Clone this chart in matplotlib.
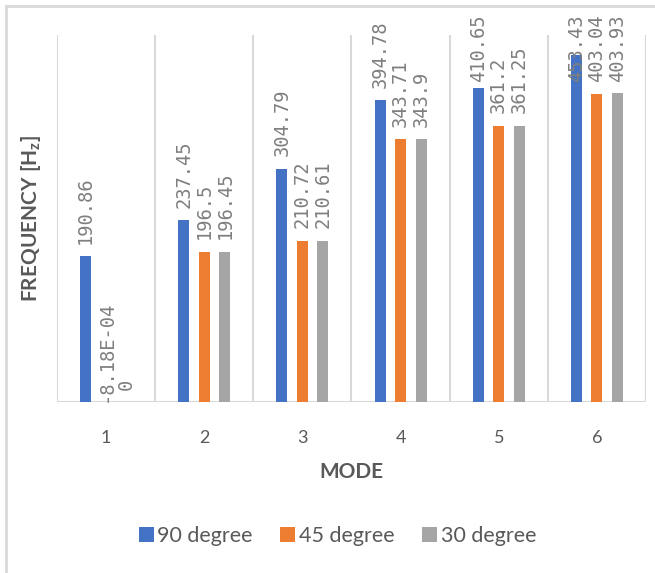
import numpy as np
import matplotlib.pyplot as plt
from matplotlib.patches import Rectangle

# Dados do gráfico
modos = ['1', '2', '3', '4', '5', '6']
series = ['90 degree', '45 degree', '30 degree']
freq_90 = [190.86, 237.45, 304.79, 394.78, 410.65, 453.43]
freq_45 = [-8.18e-04, 196.5, 210.72, 343.71, 361.2, 403.04]
freq_30 = [0, 196.45, 210.61, 343.9, 361.25, 403.93]
rotulos_45 = ['-8.18E-04', '196.5', '210.72', '343.71', '361.2', '403.04']

cores = ['#4472c4', '#ed7d31', '#a5a5a5']
cinza_grade = '#d9d9d9'
cinza_texto = '#595959'

fig = plt.figure(figsize=(6.55, 5.73), dpi=100)
ax = fig.add_axes([57/655, 1 - 402/573, 589/655, 367/573])

x = np.arange(len(modos))
largura = 0.112
deslocamento = 0.209

todas = [freq_90, freq_45, freq_30]
rotulos = [[f'{v:g}' for v in freq_90], rotulos_45, [f'{v:g}' for v in freq_30]]

ax.set_xlim(-0.5, len(modos) - 0.5)
ax.set_ylim(0, 480)

# Linhas de grade verticais entre categorias
for b in np.arange(-0.5, len(modos), 1.0):
    ax.axvline(b, color=cinza_grade, linewidth=1.5, zorder=0)
ax.axhline(0, color=cinza_grade, linewidth=1.5, zorder=1)

textos = []
for i, (valores, cor, nome) in enumerate(zip(todas, cores, series)):
    pos = x + (i - 1) * deslocamento
    ax.bar(pos, valores, width=largura, color=cor, label=nome, zorder=2)
    for xp, v, rot in zip(pos, valores, rotulos[i]):
        off = 9 if v >= 0 else 0
        t = ax.annotate(rot, (xp, max(v, 0)), xytext=(0, off), textcoords='offset points',
                        rotation=90, ha='center', va='bottom', fontsize=13.5,
                        family='DejaVu Sans Mono', color='#7f7f7f', annotation_clip=False)
        textos.append(t)

for s in ax.spines.values():
    s.set_visible(False)
ax.set_yticks([])
ax.set_xticks(x)
ax.set_xticklabels(modos, fontsize=13, color=cinza_texto, family='Lato')
ax.tick_params(axis='x', length=0, pad=20)
ax.set_xlabel('MODE', fontsize=15, fontweight='bold', color=cinza_texto, family='Lato', labelpad=12)
ax.set_ylabel('FREQUENCY [H$_\\mathregular{z}$]', fontsize=15, fontweight='bold',
              color=cinza_texto, family='Lato', labelpad=10)

# Ajusta rótulos que saem da área do gráfico (como o Excel faz)
fig.canvas.draw()
renderer = fig.canvas.get_renderer()
limite = 573 - 14
for t in textos:
    bb = t.get_window_extent(renderer)
    if bb.y1 > limite:
        dy = (bb.y1 - limite) * 72 / fig.dpi
        xo, yo = t.xyann
        t.xyann = (xo, yo - dy)

leg = fig.legend(loc='center', bbox_to_anchor=(0.515, 1 - 536/573), ncol=3, frameon=False,
                 handlelength=0.7, handleheight=0.7, handletextpad=0.15, columnspacing=1.3,
                 prop={'family': 'Lato', 'size': 15.5})
for txt in leg.get_texts():
    txt.set_color(cinza_texto)

# Borda externa do gráfico
fig.patches.append(Rectangle((6/655, -0.1), 1.2, 1 - 6/573 + 0.1, transform=fig.transFigure,
                             fill=False, edgecolor=cinza_grade, linewidth=2))

fig.savefig('out.png', dpi=100)
